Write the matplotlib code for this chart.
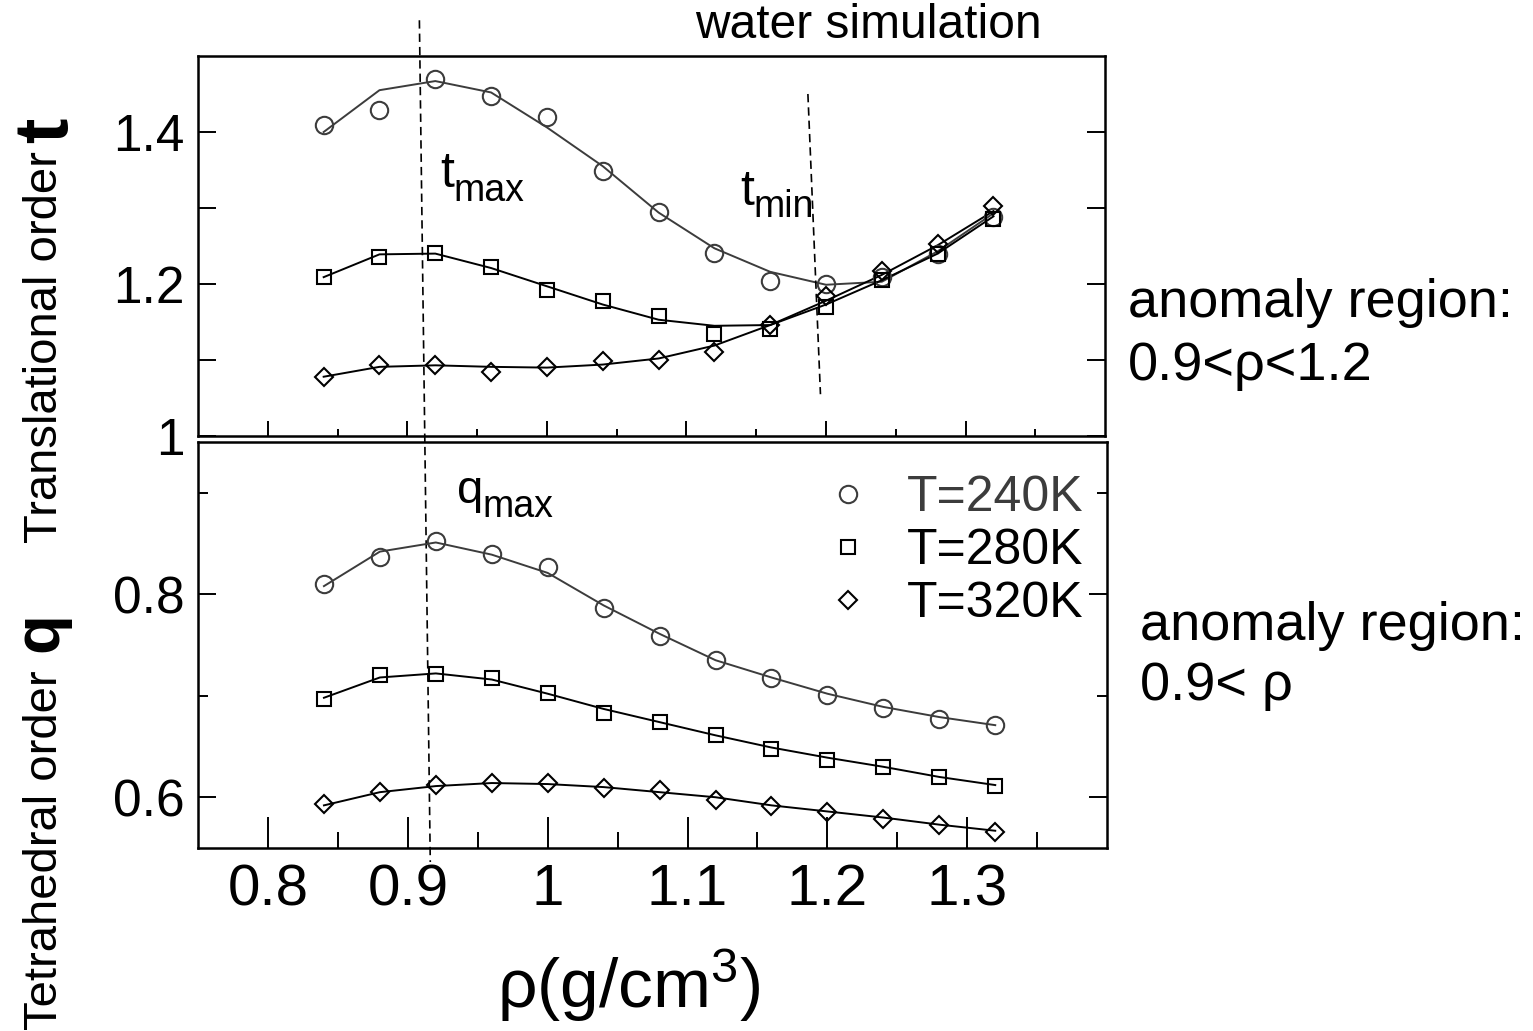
"""
Translational and tetrahedral order of simulated water versus density,
for three temperatures, drawn as two stacked panels.
"""

import matplotlib
matplotlib.use("Agg")
import matplotlib.pyplot as plt
from matplotlib.lines import Line2D
from matplotlib.transforms import offset_copy

plt.rcParams["font.family"] = ["Liberation Sans", "DejaVu Sans"]
plt.rcParams["mathtext.default"] = "regular"

# density grid (g/cm^3)
rho = [0.84, 0.88, 0.92, 0.96, 1.00, 1.04, 1.08, 1.12, 1.16, 1.20, 1.24, 1.28, 1.32]

# translational order t: simulation points and smoothed curves
t_240 = [1.409, 1.429, 1.470, 1.447, 1.420, 1.349, 1.295, 1.241, 1.204, 1.200, 1.209, 1.239, 1.288]
t_240_fit = [1.400, 1.455, 1.467, 1.452, 1.406, 1.355, 1.294, 1.247, 1.216, 1.199, 1.203, 1.243, 1.293]
t_280 = [1.209, 1.236, 1.241, 1.222, 1.192, 1.178, 1.158, 1.134, 1.141, 1.170, 1.205, 1.239, 1.285]
t_280_fit = [1.209, 1.239, 1.240, 1.221, 1.197, 1.173, 1.153, 1.145, 1.146, 1.173, 1.205, 1.240, 1.289]
t_320 = [1.077, 1.094, 1.093, 1.084, 1.091, 1.099, 1.100, 1.111, 1.146, 1.184, 1.217, 1.253, 1.303]
t_320_fit = [1.078, 1.091, 1.093, 1.091, 1.090, 1.094, 1.102, 1.119, 1.146, 1.178, 1.212, 1.251, 1.296]

# tetrahedral order q: simulation points and smoothed curves
q_240 = [0.810, 0.837, 0.852, 0.840, 0.827, 0.786, 0.759, 0.735, 0.717, 0.701, 0.688, 0.677, 0.671]
q_240_fit = [0.808, 0.842, 0.851, 0.839, 0.821, 0.789, 0.761, 0.735, 0.718, 0.702, 0.689, 0.679, 0.671]
q_280 = [0.697, 0.720, 0.721, 0.717, 0.703, 0.683, 0.674, 0.661, 0.648, 0.637, 0.630, 0.620, 0.611]
q_280_fit = [0.698, 0.718, 0.722, 0.716, 0.702, 0.687, 0.674, 0.661, 0.649, 0.639, 0.630, 0.620, 0.612]
q_320 = [0.593, 0.605, 0.612, 0.614, 0.614, 0.609, 0.607, 0.597, 0.591, 0.585, 0.579, 0.573, 0.566]
q_320_fit = [0.592, 0.605, 0.611, 0.614, 0.613, 0.610, 0.605, 0.600, 0.592, 0.586, 0.580, 0.573, 0.567]

labels = ["T=240K", "T=280K", "T=320K"]

# dashed guides marking t_max / q_max and t_min (rho, t) endpoints
tmax_rho = [0.9086, 0.9164]
tmax_t = [1.547, 0.4395]
tmin_rho = [1.187, 1.196]
tmin_t = [1.45, 1.055]

x_major = [0.8, 0.9, 1.0, 1.1, 1.2, 1.3]
x_minor = [0.85, 0.95, 1.05, 1.15, 1.25, 1.35]
x_labels = ["0.8", "0.9", "1", "1.1", "1.2", "1.3"]

GRAY = "#3c3c3c"
BLACK = "black"
styles = [
    dict(marker="o", ms=12.5, color=GRAY),
    dict(marker="s", ms=10.3, color=BLACK),
    dict(marker="D", ms=9.0, color=BLACK),
]


def draw_series(ax, pts, fits):
    for y, yfit, st in zip(pts, fits, styles):
        ax.plot(rho, yfit, color=st["color"], lw=1.4, zorder=2)
        ax.plot(rho, y, ls="none", marker=st["marker"], ms=st["ms"],
                mfc="none", mec=st["color"], mew=1.5, zorder=3)


def sub_label(ax, x, y, main, sub, dx, dy, size=34, subsize=27):
    ax.text(x, y, main, fontsize=size, ha="left", va="baseline")
    tr = offset_copy(ax.transData, fig=ax.figure, x=dx, y=dy, units="points")
    ax.text(x, y, sub, transform=tr, fontsize=subsize, ha="left", va="baseline")


def style_axis(ax, ylen):
    for s in ax.spines.values():
        s.set_linewidth(1.8)
    ax.set_xlim(0.75, 1.4)
    ax.set_xticks(x_major)
    ax.set_xticks(x_minor, minor=True)
    ax.tick_params(axis="y", which="major", direction="in", left=True, right=True,
                   length=ylen, width=1.4, labelsize=37, pad=10)
    ax.tick_params(axis="y", which="minor", direction="in", left=True, right=True,
                   length=7, width=1.4)


fig = plt.figure(figsize=(15.33, 10.31), dpi=100)
ax1 = fig.add_axes([0.1292, 0.5771, 0.5917, 0.3686])
ax2 = fig.add_axes([0.1292, 0.1775, 0.5930, 0.3938])
ax2.set_facecolor("none")

# ---- top panel: translational order ----
draw_series(ax1, [t_240, t_280, t_320], [t_240_fit, t_280_fit, t_320_fit])
style_axis(ax1, 13)
ax1.set_ylim(1.0, 1.5)
ax1.set_yticks([1.0, 1.1, 1.2, 1.3, 1.4])
ax1.set_yticklabels(["1", "", "1.2", "", "1.4"])
ax1.tick_params(axis="x", which="major", direction="in", length=10.8, width=1.4,
                labelbottom=False)
ax1.tick_params(axis="x", which="minor", direction="in", length=5, width=1.4)

ax1.plot(tmax_rho, tmax_t, color="black", lw=1.2, ls=(0, (5, 3)), clip_on=False, zorder=5)
ax1.plot(tmin_rho, tmin_t, color="black", lw=1.2, ls=(0, (5, 3)), zorder=5)
sub_label(ax1, 0.9236, 1.327, "t", "max", 9.6, -9.4, size=36, subsize=27)
sub_label(ax1, 1.1386, 1.3036, "t", "min", 9.6, -8.6, size=36, subsize=27)

# ---- bottom panel: tetrahedral order ----
draw_series(ax2, [q_240, q_280, q_320], [q_240_fit, q_280_fit, q_320_fit])
style_axis(ax2, 13)
ax2.set_ylim(0.55, 0.95)
ax2.set_yticks([0.6, 0.8])
ax2.set_yticklabels(["0.6", "0.8"])
ax2.set_yticks([0.7, 0.9], minor=True)
ax2.set_xticklabels(x_labels)
ax2.tick_params(axis="x", which="major", direction="in", length=22, width=1.4,
                labelsize=42, pad=11)
ax2.tick_params(axis="x", which="minor", direction="in", length=11.5, width=1.4)
sub_label(ax2, 0.935, 0.8899, "q", "max", 18.7, -10)

handles = [Line2D([], [], ls="none", marker=st["marker"], ms=st["ms"], mfc="none",
                  mec=st["color"], mew=1.5) for st in styles]
leg = ax2.legend(handles, labels, loc="upper left", bbox_to_anchor=(0.6876, 0.918),
                 frameon=False, fontsize=36, handlelength=1.0, handletextpad=0.68,
                 labelspacing=0.14, borderpad=0, borderaxespad=0)
for txt, st in zip(leg.get_texts(), styles):
    txt.set_color(st["color"])

# ---- figure-level text ----
fig.text(0.4534, 0.9632, "water simulation", fontsize=34.5, ha="left", va="baseline")
fig.text(0.7358, 0.6925, "anomaly region:", fontsize=39, ha="left", va="baseline")
fig.text(0.7358, 0.6314, "0.9<ρ<1.2", fontsize=39, ha="left", va="baseline")
fig.text(0.7436, 0.3792, "anomaly region:", fontsize=39, ha="left", va="baseline")
fig.text(0.7436, 0.3210, "0.9< ρ", fontsize=39, ha="left", va="baseline")

fig.text(0.4103, 0.0223, "ρ(g/cm$^{3}$)", fontsize=50, ha="center", va="baseline")

fig.text(0.0372, 0.4733, "Translational order", fontsize=34, rotation=90,
         rotation_mode="anchor", ha="left", va="baseline")
fig.text(0.0437, 0.8613, "t", fontsize=55, fontweight="bold", rotation=90,
         rotation_mode="anchor", ha="left", va="baseline")
fig.text(0.0372, 0.001, "Tetrahedral order", fontsize=34, rotation=90,
         rotation_mode="anchor", ha="left", va="baseline")
fig.text(0.0372, 0.3676, "q", fontsize=47, fontweight="bold", rotation=90,
         rotation_mode="anchor", ha="left", va="baseline")

fig.savefig("out.png", dpi=100)
